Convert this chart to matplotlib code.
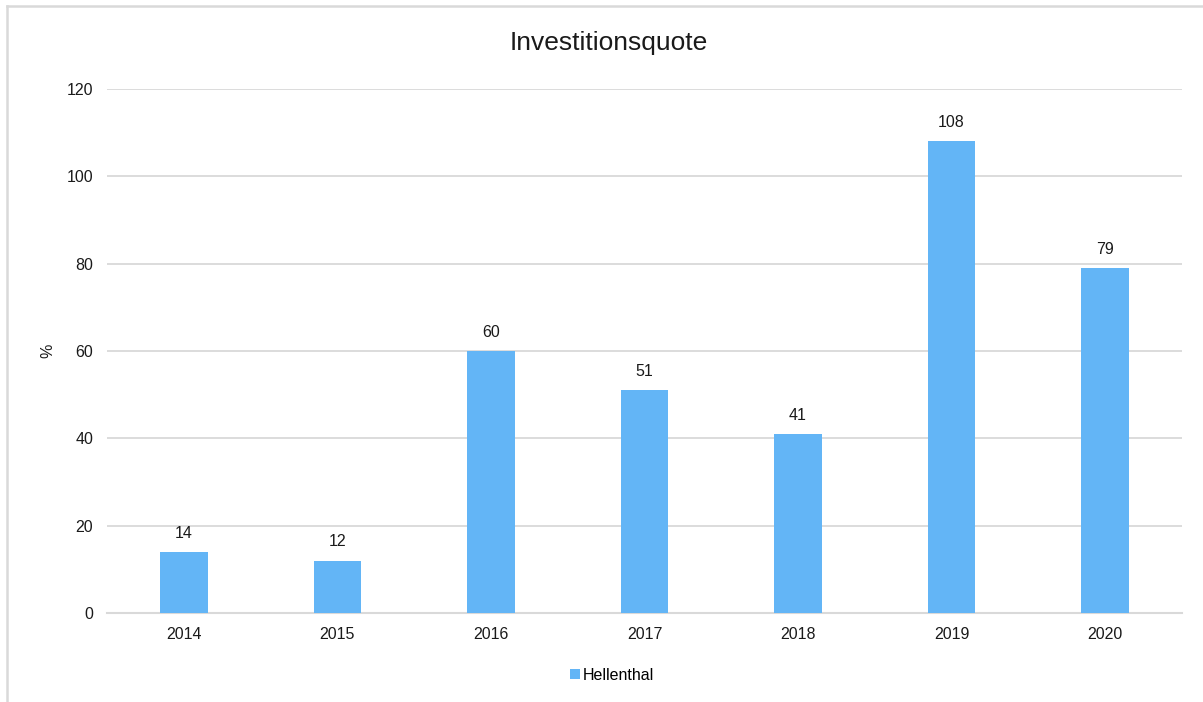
import matplotlib.pyplot as plt
from matplotlib.lines import Line2D
import numpy as np

plt.rcParams['font.family'] = ['Liberation Sans', 'DejaVu Sans']

jahre = ['2014', '2015', '2016', '2017', '2018', '2019', '2020']
quote = [14, 12, 60, 51, 41, 108, 79]
serie = 'Hellenthal'

blau = '#63B5F6'
grau = '#D9D9D9'
text_farbe = '#1A1A1A'

fig = plt.figure(figsize=(12.03, 7.02), dpi=100)
ax = fig.add_axes([0.0889, 0.1268, 0.8936, 0.7464])

x = np.arange(len(jahre))
ax.bar(x, quote, width=0.31, color=blau, label=serie, zorder=3)

for xi, v in zip(x, quote):
    ax.annotate(str(v), (xi, v), xytext=(0, 8), textcoords='offset points',
                ha='center', va='bottom', fontsize=11.5, color=text_farbe)

ax.set_xlim(-0.5, len(jahre) - 0.5)
ax.set_ylim(0, 120)
ax.set_yticks(range(0, 121, 20))
ax.set_xticks(x)
ax.set_xticklabels(jahre)
ax.tick_params(axis='both', length=0, labelsize=11.5, colors=text_farbe)
ax.tick_params(axis='y', pad=10)
ax.tick_params(axis='x', pad=10)
ax.grid(axis='y', color=grau, linewidth=1.3, zorder=0)
for s in ['top', 'right', 'left']:
    ax.spines[s].set_visible(False)
ax.spines['bottom'].set_color(grau)
ax.spines['bottom'].set_linewidth(1.5)

fig.text(48 / 1203, 1 - 351 / 702, '%', rotation=90, ha='center', va='center',
         fontsize=11.5, color=text_farbe)
fig.text(0.506, 1 - 43 / 702, 'Investitionsquote', ha='center', va='center',
         fontsize=19, color=text_farbe)

fig.legend(loc='center', bbox_to_anchor=(612 / 1203, 1 - 675 / 702), frameon=False,
           fontsize=11.5, handlelength=0.6, handleheight=0.6, handletextpad=0.2)

# Rahmen (oben und links sichtbar)
fig.add_artist(Line2D([7 / 1203, 7 / 1203], [0, 1 - 6 / 702], color=grau, linewidth=1.8))
fig.add_artist(Line2D([7 / 1203, 1202 / 1203], [1 - 6 / 702, 1 - 6 / 702], color=grau, linewidth=1.8))

fig.savefig('out.png', dpi=100)
